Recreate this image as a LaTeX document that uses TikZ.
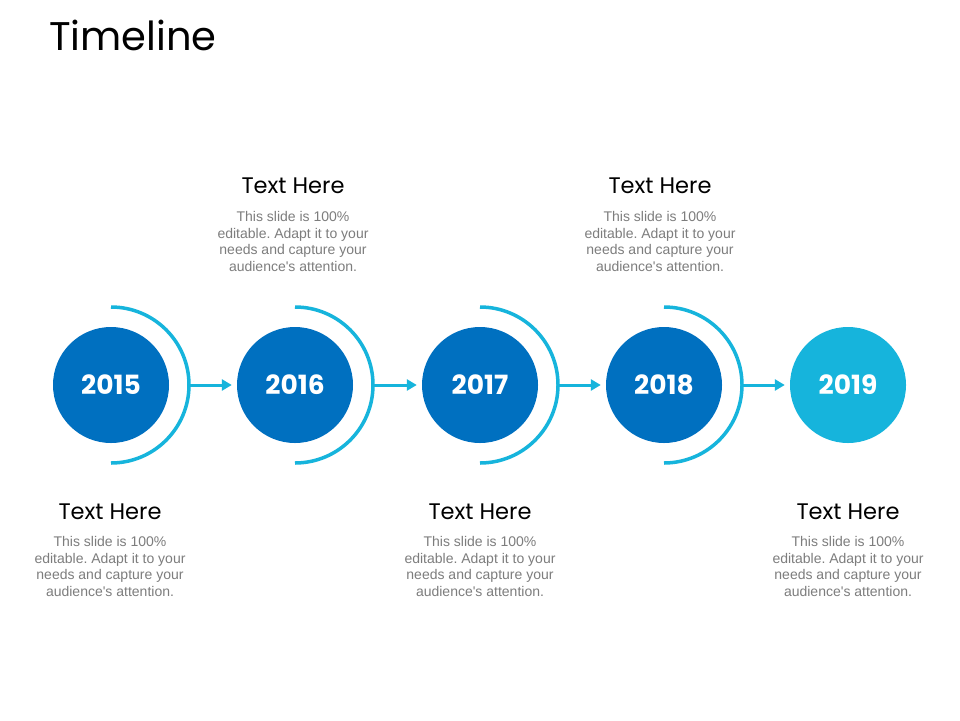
\documentclass[tikz,border=0pt]{standalone}
\usepackage{fontspec}
\setmainfont{Liberation Sans}
\newfontfamily\headfont{Poppins}
\usetikzlibrary{arrows.meta}
\definecolor{darkblue}{RGB}{0,112,192}
\definecolor{lightblue}{RGB}{22,180,220}
\definecolor{bodygray}{RGB}{125,125,125}
\frenchspacing
\begin{document}
\begin{tikzpicture}[x=1pt,y=-1pt,
  yearcircle/.style={circle,fill=darkblue,minimum size=116pt,inner sep=0pt,text=white,font=\headfont\bfseries\fontsize{26.5}{30}\selectfont},
  halfarc/.style={draw=lightblue,line width=3.5pt},
  conn/.style={draw=lightblue,line width=3pt,-{Triangle[length=10pt,width=11pt]}},
  heading/.style={anchor=base,inner sep=0pt,font=\headfont\fontsize{22.5}{26}\selectfont,text=black},
  bodytext/.style={anchor=north,inner sep=0pt,align=center,text=bodygray,font=\fontsize{14}{16.7}\selectfont}
]
\useasboundingbox[fill=white] (0,0) rectangle (960,720);
\node[anchor=base west,inner sep=0pt,font=\headfont\fontsize{40}{46}\selectfont] (title) at (49,50) {Timeline};

\foreach \i/\x/\yr in {1/111/2015,2/295/2016,3/480/2017,4/664/2018}{
  \node[yearcircle] (c\i) at (\x,385) {\yr};
  \draw[halfarc] (c\i.center) ++(0,-78) arc[start angle=-90,end angle=90,radius=78];
  \coordinate (a\i) at (\x+78,385);
}
\node[yearcircle,fill=lightblue] (c5) at (848,385) {2019};

\draw[conn] (a1) -- ([xshift=-5pt]c2.west);
\draw[conn] (a2) -- ([xshift=-5pt]c3.west);
\draw[conn] (a3) -- ([xshift=-5pt]c4.west);
\draw[conn] (a4) -- ([xshift=-5pt]c5.west);

\foreach \n/\x/\y in {h2/293/193,h4/660/193,h1/110/519,h3/480/519,h5/848/519}{
  \node[heading] (\n) at (\x,\y) {Text Here};
}
\foreach \n/\x/\y in {b2/293/211,b4/660/211,b1/110/536,b3/480/536,b5/848/536}{
  \node[bodytext] (\n) at (\x,\y) {This slide is 100\%\\editable. Adapt it to your\\needs and capture your\\audience\textquotesingle s attention.};
}
\end{tikzpicture}
\end{document}
